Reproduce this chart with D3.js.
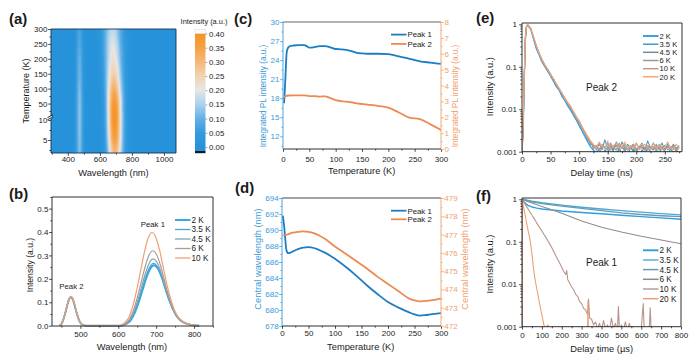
<!DOCTYPE html>
<html>
<head>
<meta charset="utf-8">
<style>
body { margin: 0; background: #fff; }
svg { display: block; }
</style>
</head>
<body>
<svg id="fig" width="700" height="361"></svg>
<script src="https://cdnjs.cloudflare.com/ajax/libs/d3/7.8.5/d3.min.js"></script>
<script>

// ---------- data ----------

// (a) heat map: peak parameters per temperature row
var hmTemps = [2, 3.5, 4.5, 6, 10, 20, 30, 40, 50, 60, 80, 100, 120, 140, 160, 180, 200, 220, 240, 260, 280, 300];
var hmPeak1Amp = [0.31, 0.33, 0.35, 0.37, 0.40, 0.40, 0.395, 0.39, 0.38, 0.37, 0.35, 0.32, 0.295, 0.27, 0.25, 0.235, 0.22, 0.21, 0.2, 0.19, 0.18, 0.17];
var hmPeak1Center = [693, 693, 692, 692, 691, 691, 690, 690, 690, 690, 689, 688, 687, 686, 685, 684, 683, 682, 681, 680, 679, 679];
var hmPeak1Width = [1.1, 1.1, 1.1, 1.1, 1.1, 1.1, 1.1, 1.1, 1.12, 1.13, 1.15, 1.18, 1.2, 1.23, 1.26, 1.29, 1.31, 1.33, 1.35, 1.37, 1.39, 1.4];
var hmPeak2Amp = [0.12, 0.12, 0.122, 0.123, 0.125, 0.125, 0.125, 0.125, 0.124, 0.123, 0.12, 0.115, 0.11, 0.107, 0.104, 0.1, 0.097, 0.09, 0.085, 0.08, 0.075, 0.07];
var hmPeak2Center = 473;
var hmPeak2Width = 1.35;
var cbTicks = [0, 0.05, 0.1, 0.15, 0.2, 0.25, 0.3, 0.35, 0.4];

// (b) spectra: sampled line shapes and peak heights
var bOffsets1 = [-90, -80, -70, -60, -50, -40, -30, -20, -10, 0, 10, 20, 30, 40, 50, 60, 70, 80, 90, 100, 120];
var bProfile1 = [0, 0.01, 0.04, 0.1, 0.22, 0.39, 0.59, 0.79, 0.94, 1, 0.95, 0.81, 0.62, 0.43, 0.28, 0.16, 0.09, 0.05, 0.025, 0.012, 0];
var bOffsets2 = [-30, -25, -20, -15, -10, -5, 0, 5, 10, 15, 20, 25, 30, 40];
var bProfile2 = [0, 0.06, 0.22, 0.44, 0.7, 0.92, 1, 0.92, 0.7, 0.45, 0.24, 0.1, 0.035, 0];
var bSeries = ["2 K", "3.5 K", "4.5 K", "6 K", "10 K"];
var bPeak1Amp = [0.258, 0.266, 0.285, 0.32, 0.398];
var bPeak1Center = [694, 693, 692, 691, 689];
var bPeak2Amp = [0.122, 0.123, 0.124, 0.124, 0.125];
var bPeak2Center = 475;

// (c) integrated PL intensity
var cTemp1 = [2, 3, 5, 7, 10, 15, 20, 30, 40, 45, 50, 60, 70, 80, 90, 100, 110, 120, 130, 140, 150, 160, 180, 200, 220, 240, 260, 280, 300];
var cPeak1 = [17.2, 18.5, 22, 25.2, 26.0, 26.25, 26.3, 26.35, 26.35, 26.2, 25.95, 26.05, 26.2, 26.2, 26.0, 25.75, 25.7, 25.6, 25.4, 25.15, 25.05, 25.0, 25.0, 24.95, 24.6, 24.2, 23.8, 23.6, 23.4];
var cTemp2 = [2, 5, 10, 20, 40, 50, 60, 70, 80, 90, 100, 120, 140, 160, 180, 200, 220, 240, 260, 280, 300];
var cPeak2 = [3.25, 3.33, 3.37, 3.38, 3.38, 3.33, 3.33, 3.3, 3.32, 3.2, 3.08, 2.98, 2.88, 2.8, 2.72, 2.6, 2.3, 1.97, 1.88, 1.55, 1.2];

// (d) central wavelength
var dTemp1 = [1.5, 4, 6, 8, 10, 12, 15, 20, 30, 40, 50, 60, 70, 80, 100, 120, 140, 160, 180, 200, 220, 240, 250, 260, 270, 280, 300];
var dPeak1 = [691.8, 690.5, 689, 687.6, 687.2, 687.1, 687.15, 687.3, 687.6, 687.8, 687.85, 687.75, 687.5, 687.2, 686.4, 685.4, 684.3, 683.1, 682.0, 681.0, 680.3, 679.7, 679.45, 679.3, 679.35, 679.45, 679.6];
var dTemp2 = [1.5, 10, 20, 30, 40, 50, 60, 70, 80, 100, 120, 140, 160, 180, 200, 220, 240, 250, 260, 280, 300];
var dPeak2 = [476.95, 477.0, 477.1, 477.15, 477.17, 477.15, 477.08, 476.95, 476.78, 476.35, 475.95, 475.55, 475.15, 474.7, 474.3, 473.9, 473.5, 473.4, 473.35, 473.4, 473.5];

// (e) decay of peak 2 (ns)
var eTime = [0, 2, 4, 6, 8, 10, 15, 20, 25, 30, 35, 40, 45, 50, 55, 60, 65, 70, 75, 80, 85, 90, 95, 100, 105, 110, 115, 120, 125, 130, 135, 140, 145, 150, 155, 160, 165, 170, 175, 180, 185, 190, 195, 200, 205, 210, 215, 220, 225, 230, 235, 240, 245, 250, 255, 260, 265, 270, 275];
var e2K = [0.001, 0.003, 0.05, 0.45, 0.9, 0.95, 0.78, 0.46, 0.27, 0.19, 0.13, 0.1, 0.078, 0.061, 0.046, 0.034, 0.028, 0.02, 0.016, 0.012, 0.0095, 0.0072, 0.0056, 0.0041, 0.0031, 0.0023, 0.0017, 0.0013, 0.0011,
  0.0009, 0.0012, 0.0008, 0.0011, 0.0009, 0.0014, 0.001, 0.0008, 0.0012, 0.0009, 0.0011, 0.0008, 0.0013, 0.001, 0.0012, 0.0008, 0.0011, 0.0009, 0.0012, 0.001, 0.0008, 0.0011, 0.0009, 0.0013, 0.001, 0.0008, 0.0012, 0.0009, 0.0011, 0.0009];
var e3_5K = [0.001, 0.004, 0.06, 0.5, 0.92, 0.97, 0.8, 0.49, 0.3, 0.2, 0.145, 0.11, 0.087, 0.065, 0.051, 0.038, 0.03, 0.022, 0.018, 0.0135, 0.0112, 0.0082, 0.0066, 0.0047, 0.0037, 0.0027, 0.0021, 0.0015, 0.0014,
  0.0012, 0.0016, 0.0011, 0.0019, 0.0012, 0.0014, 0.0011, 0.0017, 0.0012, 0.0013, 0.0011, 0.0015, 0.0012, 0.0011, 0.0016, 0.0012, 0.0013, 0.0011, 0.0018, 0.0012, 0.0011, 0.0014, 0.0012, 0.0016, 0.0011, 0.0013, 0.0012, 0.0015, 0.0012, 0.0013];
var e4_5K = [0.001, 0.0035, 0.055, 0.48, 0.91, 0.96, 0.79, 0.5, 0.29, 0.21, 0.14, 0.108, 0.083, 0.068, 0.049, 0.039, 0.029, 0.024, 0.017, 0.0142, 0.0105, 0.0088, 0.0061, 0.0052, 0.0036, 0.0029, 0.0019, 0.0017, 0.0012,
  0.0014, 0.0011, 0.0013, 0.0012, 0.0016, 0.0011, 0.0012, 0.0014, 0.0011, 0.0017, 0.0012, 0.0011, 0.0013, 0.0015, 0.0011, 0.0012, 0.0014, 0.0011, 0.0013, 0.0012, 0.0016, 0.0011, 0.0013, 0.0012, 0.0011, 0.0015, 0.0012, 0.0013, 0.0011, 0.0014];
var e6K = [0.001, 0.004, 0.065, 0.52, 0.93, 0.96, 0.81, 0.51, 0.31, 0.2, 0.142, 0.104, 0.086, 0.064, 0.052, 0.037, 0.031, 0.023, 0.0178, 0.0137, 0.0115, 0.0084, 0.0065, 0.0051, 0.0038, 0.0028, 0.0022, 0.0016, 0.0014,
  0.0011, 0.0015, 0.0012, 0.0013, 0.0011, 0.0016, 0.0012, 0.0011, 0.0014, 0.0012, 0.0015, 0.0011, 0.0012, 0.0014, 0.0011, 0.0013, 0.0016, 0.0012, 0.0011, 0.0013, 0.0012, 0.0015, 0.0011, 0.0012, 0.0014, 0.0011, 0.0013, 0.0012, 0.0011, 0.0013];
var e10K = [0.001, 0.004, 0.06, 0.5, 0.92, 0.97, 0.8, 0.5, 0.3, 0.205, 0.14, 0.109, 0.084, 0.067, 0.05, 0.039, 0.029, 0.0235, 0.0172, 0.014, 0.0108, 0.0087, 0.0062, 0.0051, 0.0036, 0.0029, 0.002, 0.0017, 0.0013,
  0.0013, 0.0011, 0.0015, 0.0012, 0.0011, 0.0014, 0.0013, 0.0011, 0.0016, 0.0012, 0.0011, 0.0013, 0.0012, 0.0015, 0.0011, 0.0013, 0.0012, 0.0011, 0.0014, 0.0012, 0.0013, 0.0011, 0.0015, 0.0012, 0.0011, 0.0013, 0.0012, 0.0014, 0.0011, 0.0012];
var e20K = [0.001, 0.0045, 0.07, 0.55, 0.94, 0.98, 0.82, 0.52, 0.32, 0.21, 0.15, 0.112, 0.088, 0.066, 0.053, 0.04, 0.031, 0.024, 0.0182, 0.0145, 0.0118, 0.009, 0.0068, 0.0054, 0.004, 0.003, 0.0023, 0.0018, 0.0015,
  0.0012, 0.0017, 0.0013, 0.0012, 0.0018, 0.0011, 0.0014, 0.0016, 0.0012, 0.0013, 0.0017, 0.0011, 0.0014, 0.0012, 0.0016, 0.0011, 0.0013, 0.0015, 0.0012, 0.0011, 0.0016, 0.0012, 0.0014, 0.0011, 0.0013, 0.0017, 0.0012, 0.0011, 0.0015, 0.0012];
var eLabels = ["2 K", "3.5 K", "4.5 K", "6 K", "10 K", "20 K"];

// (f) decay of peak 1 (us), [time, intensity]
var f2K = [[0, 0.0008], [1, 1], [5, 0.93], [10, 0.86], [20, 0.78], [30, 0.72], [50, 0.66], [75, 0.62], [100, 0.59], [150, 0.56], [200, 0.53], [300, 0.49], [400, 0.455], [500, 0.42], [600, 0.39], [700, 0.365], [800, 0.34]];
var f3_5K = [[0, 0.0008], [1, 1], [20, 0.96], [50, 0.9], [100, 0.83], [200, 0.73], [300, 0.65], [400, 0.59], [500, 0.54], [600, 0.5], [700, 0.46], [800, 0.43]];
var f4_5K = [[0, 0.0008], [1, 1], [20, 0.94], [50, 0.87], [100, 0.79], [200, 0.69], [300, 0.61], [400, 0.54], [500, 0.48], [600, 0.44], [700, 0.41], [800, 0.39]];
var f6K = [[0, 0.0008], [1, 1], [25, 0.9], [50, 0.82], [100, 0.68], [150, 0.57], [200, 0.47], [300, 0.31], [400, 0.22], [500, 0.17], [600, 0.135], [700, 0.11], [800, 0.09]];
var f10K = [[0, 0.0008], [1, 1], [10, 0.84], [20, 0.71], [30, 0.6], [40, 0.5], [50, 0.42], [60, 0.36], [70, 0.3], [80, 0.25], [90, 0.21], [100, 0.18], [110, 0.15], [120, 0.127], [130, 0.106], [140, 0.088], [150, 0.072],
  [160, 0.058], [170, 0.047], [180, 0.038], [190, 0.031], [200, 0.025], [210, 0.02], [220, 0.017], [225, 0.021], [230, 0.013], [240, 0.0106], [250, 0.0086], [260, 0.0074], [270, 0.0058], [280, 0.0052],
  [290, 0.0039], [300, 0.0035], [310, 0.0027], [320, 0.0025], [330, 0.0019], [335, 0.0045], [340, 0.0016], [350, 0.0015], [360, 0.0011], [370, 0.0013], [380, 0.0009], [390, 0.0012], [400, 0.0008],
  [410, 0.0014], [420, 0.0009], [430, 0.0011], [440, 0.0008], [450, 0.0016], [460, 0.0009], [470, 0.0012], [480, 0.0008], [485, 0.003], [490, 0.0009], [500, 0.0011], [510, 0.0008], [520, 0.0013],
  [530, 0.0008], [540, 0.0012], [550, 0.0008], [560, 0.001], [580, 0.0008], [600, 0.0009], [610, 0.0035], [615, 0.0008], [640, 0.0008], [645, 0.0028], [650, 0.0008], [700, 0.0008], [800, 0.0008]];
var f20K = [[0, 0.0008], [1, 1], [5, 0.76], [10, 0.58], [15, 0.44], [20, 0.33], [25, 0.25], [30, 0.19], [35, 0.147], [42, 0.1], [50, 0.052], [60, 0.0193], [70, 0.01], [80, 0.0058], [90, 0.0032], [100, 0.0019],
  [110, 0.0011], [120, 0.0009], [130, 0.0011], [140, 0.0008], [160, 0.0009], [200, 0.0008], [330, 0.0008], [332, 0.004], [334, 0.0008], [800, 0.0008]];
var fLabels = ["2 K", "3.5 K", "4.5 K", "6 K", "10 K", "20 K"];

// ---------- styles ----------
var ink = "#1a1a1a";
var blueAxis = "#3b9ad8", orangeAxis = "#f0a06c";
var blueLine = "#1b7dc2", orangeLine = "#ec8a55";
var bColors = ["#33a3e3", "#49a7cf", "#7ea3b8", "#a89c9a", "#f0a070"];
var tColors = ["#2f9de0", "#3d9fc6", "#6c8fa1", "#999999", "#c0968a", "#f3a778"];
var cmapColors = ["#2592da", "#359bde", "#63b0e4", "#a9d1ee", "#e6e6e6", "#f2d3b0", "#f5b878", "#f6a145", "#f7921e"];

var svg = d3.select("#fig").attr("font-family", "'Liberation Sans', Arial, sans-serif");
svg.append("rect").attr("width", 700).attr("height", 361).attr("fill", "#fff");
var defs = svg.append("defs");

function txt(x, y, s, size, o) {
  o = o || {};
  var t = svg.append("text").attr("x", x).attr("y", y).text(s)
    .attr("font-size", size).attr("fill", o.fill || ink)
    .attr("text-anchor", o.anchor || "start");
  if (o.bold) t.attr("font-weight", "bold");
  if (o.rot) t.attr("transform", "rotate(-90," + x + "," + y + ")");
  return t;
}

function axis(type, scale, major, minor, tr, color, fmt, pad) {
  var mk = { left: d3.axisLeft, right: d3.axisRight, bottom: d3.axisBottom }[type];
  var a = svg.append("g").attr("transform", tr)
    .call(mk(scale).tickValues(major).tickSize(2.8).tickPadding(pad).tickFormat(fmt || d3.format("")));
  var m = svg.append("g").attr("transform", tr)
    .call(mk(scale).tickValues(minor).tickSize(1.6).tickFormat(""));
  [a, m].forEach(function (s) {
    s.attr("font-family", null).attr("font-size", null);
    s.select(".domain").remove();
    s.selectAll("line").attr("stroke", color).attr("stroke-width", 0.8);
  });
  a.selectAll("text").attr("fill", color).attr("font-size", 8);
}

function edge(x1, y1, x2, y2, color) {
  svg.append("line").attr("x1", x1).attr("y1", y1).attr("x2", x2).attr("y2", y2)
    .attr("stroke", color).attr("stroke-width", 0.9);
}

function box(l, t, r, b, cols) {
  cols = cols || [ink, ink, ink, ink];
  edge(l, t, r, t, cols[0]);
  edge(r, t, r, b, cols[1]);
  edge(l, b, r, b, cols[2]);
  edge(l, t, l, b, cols[3]);
}

function clip(id, l, t, r, b) {
  defs.append("clipPath").attr("id", id).append("rect")
    .attr("x", l).attr("y", t).attr("width", r - l).attr("height", b - t);
  return svg.append("g").attr("clip-path", "url(#" + id + ")");
}

function legend(x, rows, labels, colors, size, widths) {
  labels.forEach(function (s, i) {
    svg.append("line").attr("x1", x).attr("x2", x + 15.5).attr("y1", rows[i]).attr("y2", rows[i])
      .attr("stroke", colors[i]).attr("stroke-width", widths ? widths[i] : 1.8);
    txt(x + 16.5, rows[i] + size * 0.36, s, size);
  });
}

function range(a, b, s) { return d3.range(a, b + s / 2, s); }

// ---------- (a) heat map ----------
var A = { l: 51, t: 29, r: 176, b: 153 };
var xA = d3.scaleLinear().domain([295, 1075]).range([A.l, A.r]);
var yAtop = d3.scaleLinear().domain([10, 300]).range([115.5, A.t]);
var yAbot = d3.scaleLinear().domain([2, 10]).range([152, 120]);
function tempAt(py) {
  if (py <= 117.7) return Math.max(10, yAtop.invert(py));
  return Math.max(2, Math.min(10, yAbot.invert(py)));
}
var cmap = d3.scaleLinear().domain(cbTicks).range(cmapColors).clamp(true);
var prof1 = d3.scaleLinear().domain(bOffsets1).range(bProfile1).clamp(true);
var prof2 = d3.scaleLinear().domain(bOffsets2).range(bProfile2).clamp(true);
var amp1At = d3.scaleLinear().domain(hmTemps).range(hmPeak1Amp);
var cen1At = d3.scaleLinear().domain(hmTemps).range(hmPeak1Center);
var wid1At = d3.scaleLinear().domain(hmTemps).range(hmPeak1Width);
var amp2At = d3.scaleLinear().domain(hmTemps).range(hmPeak2Amp);

var cw = A.r - A.l, ch = A.b - A.t;
var cv = document.createElement("canvas");
cv.width = cw; cv.height = ch;
var ctx = cv.getContext("2d");
var img = ctx.createImageData(cw, ch);
for (var j = 0; j < ch; j++) {
  var T = tempAt(A.t + j + 0.5);
  var a1 = amp1At(T), c1 = cen1At(T), w1 = wid1At(T), a2 = amp2At(T);
  for (var i = 0; i < cw; i++) {
    var lam = xA.invert(A.l + i + 0.5);
    var v = a1 * prof1((lam - c1) / w1) + a2 * prof2((lam - hmPeak2Center) / hmPeak2Width);
    var c = d3.rgb(cmap(v));
    var k = (j * cw + i) * 4;
    img.data[k] = c.r; img.data[k + 1] = c.g; img.data[k + 2] = c.b; img.data[k + 3] = 255;
  }
}
ctx.putImageData(img, 0, 0);
svg.append("image").attr("href", cv.toDataURL()).attr("x", A.l).attr("y", A.t)
  .attr("width", cw).attr("height", ch).attr("preserveAspectRatio", "none");
box(A.l, A.t, A.r, A.b, ["#14315a", "#14315a", "#14315a", "#14315a"]);

axis("bottom", xA, [400, 600, 800, 1000], [300, 500, 700, 900], "translate(0," + A.b + ")", ink, null, 1);
axis("left", yAtop, range(50, 300, 50), range(25, 275, 50), "translate(" + A.l + ",0)", ink, null, 0.8);
axis("left", yAbot, [5, 10], [2.5, 7.5], "translate(" + A.l + ",0)", ink, null, 0.8);
svg.append("rect").attr("x", 46).attr("y", 116.2).attr("width", 6).attr("height", 2).attr("fill", "#fff");
edge(47.5, 117.5, 53, 114.8, ink);
edge(47.5, 119.7, 53, 117, ink);

txt(113.5, 175.5, "Wavelength (nm)", 9.3, { anchor: "middle" });
txt(29.2, 91, "Temperature (K)", 9, { anchor: "middle", rot: true });
txt(9, 24, "(a)", 15, { bold: true });

// colour bar
var CB = { l: 195, r: 205.5 };
var yCB = d3.scaleLinear().domain([0, 0.4]).range([147, 33.5]);
var grad = defs.append("linearGradient").attr("id", "cbgrad")
  .attr("x1", 0).attr("x2", 0).attr("y1", 1).attr("y2", 0);
cbTicks.forEach(function (v, i) {
  grad.append("stop").attr("offset", (yCB(0) + 4 - yCB(v)) / (yCB(0) + 4 - yCB(0.4))).attr("stop-color", cmapColors[i]);
});
svg.append("rect").attr("x", CB.l).attr("y", yCB(0.4)).attr("width", CB.r - CB.l).attr("height", yCB(0) + 4 - yCB(0.4)).attr("fill", "url(#cbgrad)");
svg.append("rect").attr("x", CB.l).attr("y", 29.5).attr("width", CB.r - CB.l).attr("height", yCB(0.4) - 29.5)
  .attr("fill", "#fbfbfb").attr("stroke", "#ccc").attr("stroke-width", 0.4);
svg.append("rect").attr("x", CB.l).attr("y", yCB(0) + 4).attr("width", CB.r - CB.l).attr("height", 2.2).attr("fill", "#0b1a2e");
var cbAx = svg.append("g").attr("transform", "translate(" + CB.r + ",0)")
  .call(d3.axisRight(yCB).tickValues(cbTicks).tickSize(1.8).tickPadding(1.8).tickFormat(d3.format(".2f")));
cbAx.attr("font-family", null).attr("font-size", null);
cbAx.select(".domain").remove();
cbAx.selectAll("line").attr("stroke", "#666").attr("stroke-width", 0.6);
cbAx.selectAll("text").attr("fill", ink).attr("font-size", 7.8);
txt(204, 23.5, "Intensity (a.u.)", 7.4, { anchor: "middle" });

// ---------- (b) spectra ----------
var B = { l: 52, t: 197, r: 213, b: 326 };
var xB = d3.scaleLinear().domain([425, 850]).range([B.l, B.r]);
var yB = d3.scaleLinear().domain([0, 0.55]).range([325.7, 196.9]);
var gB = clip("clipB", B.l, B.t, B.r, B.b + 1);
var lineB = d3.line().x(function (d) { return xB(d[0]); }).y(function (d) { return yB(d[1]); }).curve(d3.curveMonotoneX);
bSeries.forEach(function (s, k) {
  var pts = [];
  bOffsets2.forEach(function (o, i) { pts.push([bPeak2Center + o, bPeak2Amp[k] * bProfile2[i]]); });
  bOffsets1.forEach(function (o, i) { pts.push([bPeak1Center[k] + o, bPeak1Amp[k] * bProfile1[i]]); });
  gB.append("path").attr("d", lineB(pts)).attr("fill", "none")
    .attr("stroke", bColors[k]).attr("stroke-width", k === 0 ? 1.9 : 1.2).attr("stroke-linejoin", "round");
});
box(B.l, B.t, B.r, B.b);
axis("bottom", xB, [500, 600, 700, 800], [450, 550, 650, 750, 850], "translate(0," + B.b + ")", ink, null, 2.2);
axis("left", yB, range(0, 0.5, 0.1), range(0.05, 0.55, 0.1), "translate(" + B.l + ",0)", ink, d3.format(".1f"), 0.8);
legend(175, [220, 229.5, 239, 248.5, 258], bSeries, bColors, 8.2, [1.9, 1.3, 1.3, 1.3, 1.3]);
txt(140.7, 226.5, "Peak 1", 7.8);
txt(59.3, 289.3, "Peak 2", 7.8);
txt(132, 349.5, "Wavelength (nm)", 9.3, { anchor: "middle" });
txt(33.2, 265, "Intensity (a.u.)", 8.6, { anchor: "middle", rot: true });
txt(9, 199, "(b)", 15, { bold: true });

// ---------- (c) integrated intensity ----------
var C = { l: 283, t: 22, r: 441, b: 149 };
var xC = d3.scaleLinear().domain([0, 300]).range([C.l, C.r]);
var yC1 = d3.scaleLinear().domain([10, 30]).range([C.b, C.t]);
var yC2 = d3.scaleLinear().domain([0, 8]).range([C.b, C.t]);
var gC = clip("clipC", C.l, C.t, C.r, C.b);
gC.append("path").datum(d3.zip(cTemp1, cPeak1))
  .attr("d", d3.line().x(function (d) { return xC(d[0]); }).y(function (d) { return yC1(d[1]); }).curve(d3.curveMonotoneX))
  .attr("fill", "none").attr("stroke", blueLine).attr("stroke-width", 1.8);
gC.append("path").datum(d3.zip(cTemp2, cPeak2))
  .attr("d", d3.line().x(function (d) { return xC(d[0]); }).y(function (d) { return yC2(d[1]); }).curve(d3.curveMonotoneX))
  .attr("fill", "none").attr("stroke", orangeLine).attr("stroke-width", 1.8);
box(C.l, C.t, C.r, C.b, ["#555", orangeAxis, ink, blueAxis]);
axis("bottom", xC, range(0, 300, 50), range(25, 275, 50), "translate(0," + C.b + ")", ink, null, 4.5);
axis("left", yC1, range(12, 30, 3), range(10.5, 28.5, 3), "translate(" + C.l + ",0)", blueAxis, null, 0.8);
axis("right", yC2, range(0, 8, 1), range(0.5, 7.5, 1), "translate(" + C.r + ",0)", orangeAxis, null, 0.6);
legend(391, [34.6, 43.9], ["Peak 1", "Peak 2"], [blueLine, orangeLine], 7.8);
txt(361.7, 174, "Temperature (K)", 9.3, { anchor: "middle" });
txt(266, 96, "Integrated PL intensity (a.u.)", 8.2, { anchor: "middle", rot: true, fill: blueAxis });
txt(458, 96, "Integrated PL intensity (a.u.)", 8.2, { anchor: "middle", rot: true, fill: orangeAxis });
txt(234, 23.5, "(c)", 15, { bold: true });

// ---------- (d) central wavelength ----------
var D = { l: 282, t: 198, r: 441, b: 326 };
var xD = d3.scaleLinear().domain([0, 300]).range([D.l, D.r]);
var yD1 = d3.scaleLinear().domain([678, 694]).range([D.b, D.t]);
var yD2 = d3.scaleLinear().domain([472, 479]).range([D.b, D.t]);
var gD = clip("clipD", D.l, D.t, D.r, D.b);
gD.append("path").datum(d3.zip(dTemp1, dPeak1))
  .attr("d", d3.line().x(function (d) { return xD(d[0]); }).y(function (d) { return yD1(d[1]); }).curve(d3.curveMonotoneX))
  .attr("fill", "none").attr("stroke", blueLine).attr("stroke-width", 1.8);
gD.append("path").datum(d3.zip(dTemp2, dPeak2))
  .attr("d", d3.line().x(function (d) { return xD(d[0]); }).y(function (d) { return yD2(d[1]); }).curve(d3.curveMonotoneX))
  .attr("fill", "none").attr("stroke", orangeLine).attr("stroke-width", 1.8);
box(D.l, D.t, D.r, D.b, ["#333", orangeAxis, ink, blueAxis]);
axis("bottom", xD, range(0, 300, 50), range(25, 275, 50), "translate(0," + D.b + ")", ink, null, 2);
axis("left", yD1, range(678, 694, 2), range(679, 693, 2), "translate(" + D.l + ",0)", blueAxis, null, 0.5);
axis("right", yD2, range(472, 479, 1), range(472.5, 478.5, 1), "translate(" + D.r + ",0)", orangeAxis, null, 0.5);
legend(391, [210.7, 219.3], ["Peak 1", "Peak 2"], [blueLine, orangeLine], 7.8);
txt(360.7, 350, "Temperature (K)", 9.3, { anchor: "middle" });
txt(261, 259, "Central wavelength (nm)", 9.3, { anchor: "middle", rot: true, fill: blueAxis });
txt(468, 259, "Central wavelength (nm)", 9.3, { anchor: "middle", rot: true, fill: orangeAxis });
txt(235, 193, "(d)", 15, { bold: true });

// ---------- (e) peak 2 decay ----------
var E = { l: 522, t: 23, r: 682, b: 151.7 };
var xE = d3.scaleLinear().domain([0, 280]).range([E.l, E.r]);
var yE = d3.scaleLog().domain([0.001, 1]).range([151.7, 24.3]);
var logMinor = [];
[0.001, 0.01, 0.1].forEach(function (d) { for (var m = 2; m <= 9; m++) logMinor.push(d * m); });
var gE = clip("clipE", E.l, E.t, E.r, E.b);
var eSeries = [e2K, e3_5K, e4_5K, e6K, e10K, e20K];
eSeries.forEach(function (arr, k) {
  gE.append("path").datum(d3.zip(eTime, arr))
    .attr("d", d3.line().x(function (d) { return xE(d[0]); }).y(function (d) { return yE(d[1]); }))
    .attr("fill", "none").attr("stroke", tColors[k]).attr("stroke-width", k === 0 ? 1.3 : 1.1).attr("stroke-linejoin", "round");
});
box(E.l, E.t, E.r, E.b);
axis("bottom", xE, range(0, 250, 50), range(25, 275, 50), "translate(0," + E.b + ")", ink, null, 2);
axis("left", yE, [0.001, 0.01, 0.1, 1], logMinor, "translate(" + E.l + ",0)", ink, d3.format(""), 2.2);
legend(643, [36, 44.2, 52.3, 60.5, 68.7, 76.8], eLabels, tColors, 7.6, [1.9, 1.5, 1.5, 1.5, 1.5, 1.5]);
txt(586, 90.7, "Peak 2", 10);
txt(601.7, 176, "Delay time (ns)", 9.3, { anchor: "middle" });
txt(493.2, 86.7, "Intensity (a.u.)", 9.3, { anchor: "middle", rot: true });
txt(476, 22.5, "(e)", 15, { bold: true });

// ---------- (f) peak 1 decay ----------
var Fp = { l: 522, t: 198, r: 681, b: 326.7 };
var xF = d3.scaleLinear().domain([0, 800]).range([Fp.l, Fp.r]);
var yF = d3.scaleLog().domain([0.001, 1]).range([326.7, 199.3]);
var gF = clip("clipF", Fp.l, Fp.t, Fp.r, Fp.b);
var fSeries = [f2K, f3_5K, f4_5K, f6K, f10K, f20K];
var fStroke = ["#2f9de0", "#4aa9d6", "#6d98b0", "#8d8d8d", "#b8958a", "#f0a070"];
fSeries.forEach(function (arr, k) {
  gF.append("path").datum(arr)
    .attr("d", d3.line().x(function (d) { return xF(d[0]); }).y(function (d) { return yF(d[1]); }))
    .attr("fill", "none").attr("stroke", fStroke[k]).attr("stroke-width", k < 3 ? 1.4 : 1.1).attr("stroke-linejoin", "round");
});
box(Fp.l, Fp.t, Fp.r, Fp.b);
axis("bottom", xF, range(0, 800, 100), range(50, 750, 100), "translate(0," + Fp.b + ")", ink, null, 2.8);
axis("left", yF, [0.001, 0.01, 0.1, 1], logMinor, "translate(" + Fp.l + ",0)", ink, d3.format(""), 2.2);
legend(643, [250.3, 260, 269.6, 279.3, 289, 298.7], fLabels, ["#2f9de0", "#5ab0d8", "#6d98b0", "#8c8c8c", "#b0a0a0", "#f0a070"], 8.2, [1.9, 1.5, 1.5, 1.5, 1.5, 1.5]);
txt(586, 266, "Peak 1", 10);
txt(601.7, 351.5, "Delay time (\u00b5s)", 9.3, { anchor: "middle" });
txt(493.2, 264, "Intensity (a.u.)", 9.3, { anchor: "middle", rot: true });
txt(476, 200.5, "(f)", 15, { bold: true });

</script>
</body>
</html>
